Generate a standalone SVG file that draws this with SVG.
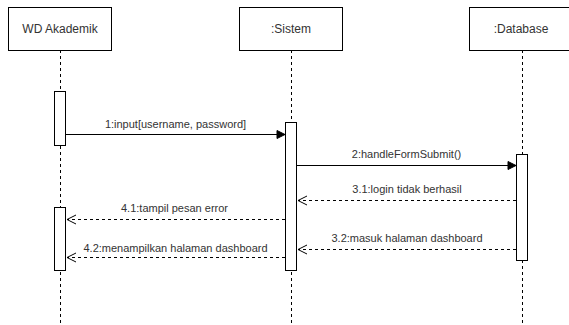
<svg xmlns="http://www.w3.org/2000/svg" width="569" height="325" viewBox="0 0 569 325">
  <style>
    .head { fill: #ffffff; stroke: #000000; stroke-width: 1; }
    .act { fill: #ffffff; stroke: #000000; stroke-width: 1; }
    .life { stroke: #000000; stroke-width: 1; stroke-dasharray: 3 3; fill: none; }
    .title { font-family: "Liberation Sans", Arial, sans-serif; font-size: 12px; fill: #333333; text-anchor: middle; }
    .lbl { font-family: "Liberation Sans", Arial, sans-serif; font-size: 11px; fill: #333333; text-anchor: middle; }
    .call { stroke: #000000; stroke-width: 1; fill: none; }
    .ret { stroke: #000000; stroke-width: 1; stroke-dasharray: 3 3; fill: none; }
  </style>
  <defs>
    <marker id="filled" markerWidth="10" markerHeight="10" refX="9" refY="5" orient="auto" markerUnits="userSpaceOnUse">
      <path d="M1,1 L9,5 L1,9 Z" fill="#000000" stroke="#000000" stroke-width="1"/>
    </marker>
    <marker id="open" markerWidth="12" markerHeight="12" refX="11" refY="6" orient="auto" markerUnits="userSpaceOnUse">
      <path d="M2,1.5 L11,6 L2,10.5" fill="none" stroke="#000000" stroke-width="1"/>
    </marker>
  </defs>

  <!-- lifelines -->
  <g id="lifelines">
    <line class="life" x1="60.5" y1="50" x2="60.5" y2="323"/>
    <line class="life" x1="291.5" y1="50" x2="291.5" y2="323"/>
    <line class="life" x1="522.5" y1="50" x2="522.5" y2="323"/>
  </g>

  <!-- participant: WD Akademik -->
  <g id="wd-akademik">
    <rect class="head" x="8.5" y="7.5" width="103" height="43"/>
    <text class="title" x="60" y="33">WD Akademik</text>
    <rect class="act" x="54.5" y="91.5" width="11" height="54"/>
    <rect class="act" x="54.5" y="207.5" width="11" height="63"/>
  </g>

  <!-- participant: Sistem -->
  <g id="sistem">
    <rect class="head" x="239.5" y="7.5" width="103" height="43"/>
    <text class="title" x="291" y="33">:Sistem</text>
    <rect class="act" x="285.5" y="122.5" width="11" height="148"/>
  </g>

  <!-- participant: Database -->
  <g id="database">
    <rect class="head" x="469.5" y="7.5" width="103" height="43"/>
    <text class="title" x="521" y="33">:Database</text>
    <rect class="act" x="516.5" y="154.5" width="11" height="106"/>
  </g>

  <!-- messages -->
  <g id="connectors">
    <line class="call" x1="66" y1="134.5" x2="285" y2="134.5" marker-end="url(#filled)"/>
    <text class="lbl" x="175.5" y="128">1:input[username, password]</text>

    <line class="call" x1="297" y1="165.5" x2="516" y2="165.5" marker-end="url(#filled)"/>
    <text class="lbl" x="406.5" y="158">2:handleFormSubmit()</text>

    <line class="ret" x1="516" y1="200.5" x2="298" y2="200.5" marker-end="url(#open)"/>
    <text class="lbl" x="407" y="193">3.1:login tidak berhasil</text>

    <line class="ret" x1="516" y1="249.5" x2="298" y2="249.5" marker-end="url(#open)"/>
    <text class="lbl" x="407" y="242">3.2:masuk halaman dashboard</text>

    <line class="ret" x1="285" y1="219.5" x2="67" y2="219.5" marker-end="url(#open)"/>
    <text class="lbl" x="174.5" y="212">4.1:tampil pesan error</text>

    <line class="ret" x1="285" y1="257.5" x2="67" y2="257.5" marker-end="url(#open)"/>
    <text class="lbl" x="175.5" y="252">4.2:menampilkan halaman dashboard</text>
  </g>
</svg>
